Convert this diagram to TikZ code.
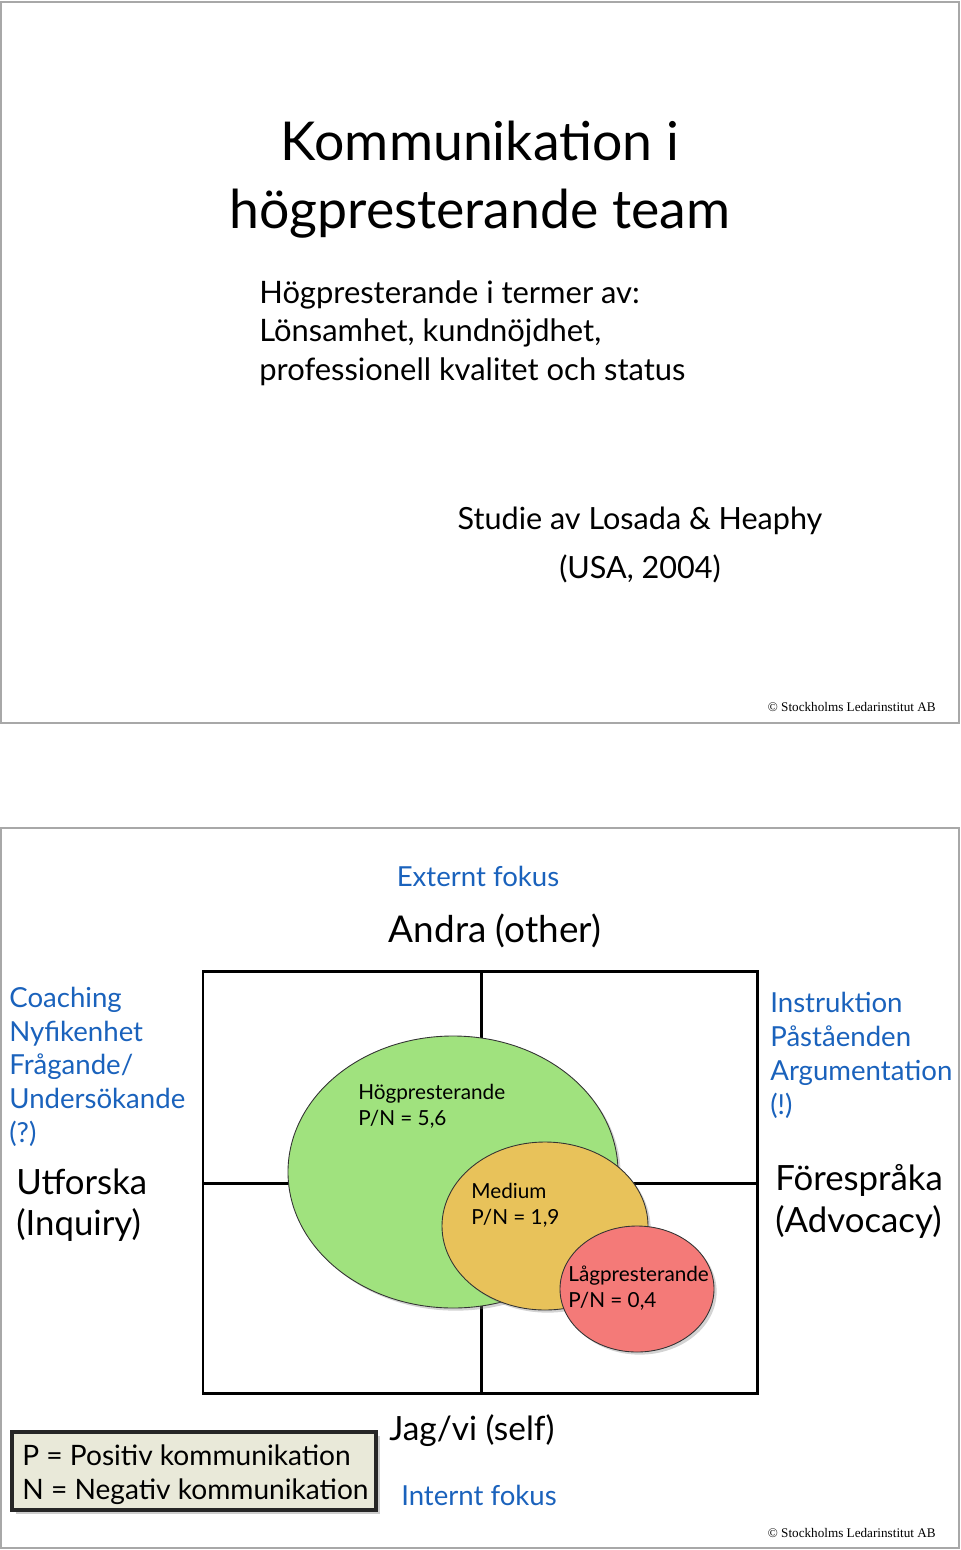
\documentclass[tikz,border=0pt]{standalone}
\usepackage{fontspec}
\setmainfont{Lato}
\newfontfamily\serifcopy{Liberation Serif}
\usetikzlibrary{shadows}
\definecolor{fokusblue}{HTML}{1A62BC}
\definecolor{slidegray}{HTML}{A8A8A8}
\definecolor{hoggreen}{HTML}{A0E27E}
\definecolor{medorange}{HTML}{E8C25A}
\definecolor{lagred}{HTML}{F47A78}
\definecolor{legendfill}{HTML}{E9E9D9}
\newcommand{\fs}[1]{\fontsize{#1}{#1}\selectfont}
\tikzset{
  line/.style={anchor=base west, inner sep=0pt},
  cline/.style={anchor=base, inner sep=0pt},
  copy/.style={anchor=base east, inner sep=0pt, font=\serifcopy\fs{7.5}},
  bubble/.style={draw=black!80, line width=0.5pt, drop shadow={shadow xshift=1.5pt, shadow yshift=-1.5pt, opacity=0.35}},
}

\begin{document}
\begin{tikzpicture}[x=0.02cm, y=-0.02cm]
  \useasboundingbox (0,0) rectangle (960,1550);
  % top slide
  \draw[slidegray, line width=0.8pt] (1,2) rectangle (959,723);
  \node[cline, font=\fs{30.5}] (title1) at (480,161) {Kommunikation i};
  \node[cline, font=\fs{30.5}] (title2) at (480,229) {högpresterande team};
  \node[line, font=\fs{17.6}] (sub1) at (259,304) {Högpresterande i termer av:};
  \node[line, font=\fs{17.6}] (sub2) at (259,342) {Lönsamhet, kundnöjdhet,};
  \node[line, font=\fs{17.6}] (sub3) at (259,381) {professionell kvalitet och status};
  \node[cline, font=\fs{17.4}] (studie) at (640,529) {Studie av Losada \& Heaphy};
  \node[cline, font=\fs{17.4}] (usa) at (640,578) {(USA, 2004)};
  \node[copy] (copy1) at (936,711) {© Stockholms Ledarinstitut AB};

  % bottom slide
  \draw[slidegray, line width=0.8pt] (1,828) rectangle (959,1548);
  \node[cline, font=\fs{15.7}, fokusblue] (extern) at (478,886) {Externt fokus};
  \node[cline, font=\fs{21}] (andra) at (495,942) {Andra (other)};

  % quadrants
  \draw[line width=1.7pt] (203,971) rectangle (757,1393);
  \draw[line width=1.7pt] (481,971) -- (481,1393);
  \draw[line width=1.7pt] (203,1183) -- (757,1183);

  % groups
  \draw[bubble, fill=hoggreen] (453,1172) ellipse [x radius=165, y radius=136];
  \draw[bubble, fill=medorange] (545,1226) ellipse [x radius=103, y radius=84];
  \draw[bubble, fill=lagred] (637,1289) ellipse [x radius=77, y radius=63];
  \node[line, font=\fs{11.8}] (hog1) at (358,1099) {Högpresterande};
  \node[line, font=\fs{11.8}] (hog2) at (358,1125) {P/N = 5,6};
  \node[line, font=\fs{11.8}] (med1) at (471,1198) {Medium};
  \node[line, font=\fs{11.8}] (med2) at (471,1224) {P/N = 1,9};
  \node[line, font=\fs{11.8}] (lag1) at (568,1281) {Lågpresterande};
  \node[line, font=\fs{11.8}] (lag2) at (568,1307) {P/N = 0,4};

  % left side
  \node[line, font=\fs{15.7}, fokusblue] (coach) at (9,1007) {Coaching};
  \node[line, font=\fs{15.7}, fokusblue] (nyfik) at (9,1041) {Nyfikenhet};
  \node[line, font=\fs{15.7}, fokusblue] (frag) at (9,1074) {Frågande/};
  \node[line, font=\fs{15.7}, fokusblue] (under) at (9,1108) {Undersökande};
  \node[line, font=\fs{15.7}, fokusblue] (quest) at (9,1142) {(?)};
  \node[line, font=\fs{19.8}] (utf) at (16,1194) {Utforska};
  \node[line, font=\fs{19.8}] (inq) at (16,1235) {(Inquiry)};

  % right side
  \node[line, font=\fs{15.7}, fokusblue] (instr) at (770,1012) {Instruktion};
  \node[line, font=\fs{15.7}, fokusblue] (past) at (770,1046) {Påståenden};
  \node[line, font=\fs{15.7}, fokusblue] (argu) at (770,1080) {Argumentation};
  \node[line, font=\fs{15.7}, fokusblue] (excl) at (770,1114) {(!)};
  \node[line, font=\fs{19.8}] (fore) at (775,1190) {Förespråka};
  \node[line, font=\fs{19.8}] (advo) at (775,1232) {(Advocacy)};

  % legend
  \draw[fill=legendfill, draw=black!85, line width=1.8pt,
        drop shadow={shadow xshift=2pt, shadow yshift=-2pt, opacity=0.4}]
        (12,1432) rectangle (376,1510);
  \node[line, font=\fs{16}] (leg1) at (22,1465) {P = Positiv kommunikation};
  \node[line, font=\fs{16}] (leg2) at (22,1499) {N = Negativ kommunikation};

  \node[cline, font=\fs{19}] (jag) at (472,1440) {Jag/vi (self)};
  \node[cline, font=\fs{15.7}, fokusblue] (intern) at (479,1505) {Internt fokus};
  \node[copy] (copy2) at (936,1537) {© Stockholms Ledarinstitut AB};
\end{tikzpicture}
\end{document}
